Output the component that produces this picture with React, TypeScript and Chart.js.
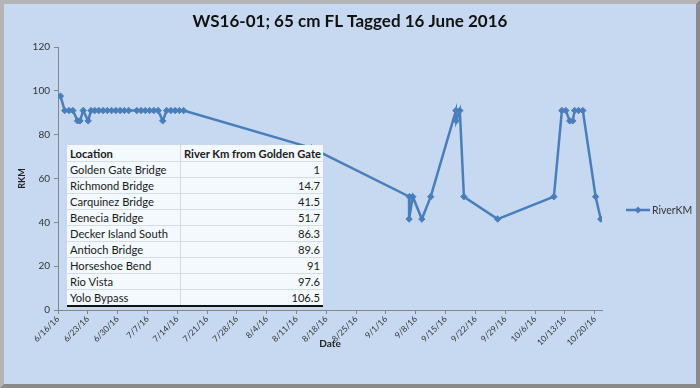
import React, { useEffect, useRef } from "react";
import { Chart, registerables } from "chart.js";
Chart.register(...registerables);

const TITLE = "WS16-01; 65 cm FL Tagged 16 June 2016";
const SERIES_NAME = "RiverKM";
const X_TITLE = "Date";
const Y_TITLE = "RKM";

// detection date/time (M/D/YY HH:MM) and river km
const detectionTimes = [
  "6/16/16 14:00", "6/17/16 14:00", "6/18/16 14:00", "6/19/16 12:00", "6/20/16 14:00",
  "6/21/16 04:00", "6/21/16 22:00", "6/23/16 02:00", "6/23/16 18:00", "6/24/16 16:00",
  "6/25/16 14:00", "6/26/16 14:00", "6/27/16 14:00", "6/28/16 14:00", "6/29/16 14:00",
  "6/30/16 14:00", "7/1/16 14:00", "7/2/16 14:00", "7/4/16 12:00", "7/5/16 12:00",
  "7/6/16 12:00", "7/7/16 12:00", "7/8/16 12:00", "7/9/16 12:00", "7/10/16 14:00",
  "7/11/16 12:00", "7/12/16 12:00", "7/13/16 12:00", "7/14/16 12:00", "7/15/16 12:00",
  "8/14/16 12:00",
  "9/6/16 12:00", "9/6/16 10:00", "9/7/16 07:00", "9/9/16 10:00", "9/11/16 12:00",
  "9/17/16 10:00", "9/17/16 12:00", "9/18/16 08:00", "9/19/16 07:00", "9/27/16 05:00",
  "10/10/16 10:00", "10/12/16 07:00", "10/13/16 05:00", "10/14/16 03:00", "10/14/16 20:00",
  "10/15/16 07:00", "10/16/16 05:00", "10/17/16 05:00", "10/20/16 05:00", "10/21/16 10:00",
];
const riverKm = [
  97.6, 91, 91, 91, 86.3,
  86.3, 91, 86.3, 91, 91,
  91, 91, 91, 91, 91,
  91, 91, 91, 91, 91,
  91, 91, 91, 91, 86.3,
  91, 91, 91, 91, 91,
  74,
  51.7, 41.5, 51.7, 41.5, 51.7,
  91, 86.3, 91, 51.7, 41.5,
  51.7, 91, 91, 86.3, 86.3,
  91, 91, 91, 51.7, 41.5,
];

const xTickLabels = [
  "6/16/16", "6/23/16", "6/30/16", "7/7/16", "7/14/16", "7/21/16", "7/28/16", "8/4/16",
  "8/11/16", "8/18/16", "8/25/16", "9/1/16", "9/8/16", "9/15/16", "9/22/16", "9/29/16",
  "10/6/16", "10/13/16", "10/20/16",
];
const X_MAX_DATE = "10/21/16 17:00";
const Y_MIN = 0;
const Y_MAX = 120;
const Y_STEP = 20;

const tableHeader = ["Location", "River Km from Golden Gate"];
const tableLocations = [
  "Golden Gate Bridge", "Richmond Bridge", "Carquinez Bridge", "Benecia Bridge",
  "Decker Island South", "Antioch Bridge", "Horseshoe Bend", "Rio Vista", "Yolo Bypass",
];
const tableKm = ["1", "14.7", "41.5", "51.7", "86.3", "89.6", "91", "97.6", "106.5"];

const ORIGIN = Date.UTC(2016, 5, 16);
function toDay(s: string): number {
  const [d, t] = s.split(" ");
  const [m, dd, yy] = d.split("/").map(Number);
  let h = 0, mi = 0;
  if (t) { const p = t.split(":").map(Number); h = p[0]; mi = p[1]; }
  return (Date.UTC(2000 + yy, m - 1, dd, h, mi) - ORIGIN) / 86400000;
}

const LINE = "#4a7ebb";
const FONT = "Lato, 'Noto Sans', sans-serif";

export default function App() {
  const ref = useRef<HTMLCanvasElement | null>(null);
  useEffect(() => {
    document.body.style.margin = "0";
    const tickDays = xTickLabels.map(toDay);
    const labelByDay = new Map<number, string>();
    tickDays.forEach((d, i) => labelByDay.set(d, xTickLabels[i]));
    const points = detectionTimes.map((t, i) => ({ x: toDay(t), y: riverKm[i] }));

    const decor = {
      id: "decor",
      afterDraw(chart: any) {
        const ctx = chart.ctx;
        ctx.save();
        ctx.fillStyle = "#111";
        ctx.font = `bold 17px ${FONT}`;
        ctx.textAlign = "center";
        ctx.textBaseline = "middle";
        ctx.fillText(TITLE, chart.width / 2, 18);
        // legend
        const ly = 206;
        const lx = 622;
        ctx.strokeStyle = LINE;
        ctx.lineWidth = 2.5;
        ctx.beginPath();
        ctx.moveTo(lx, ly);
        ctx.lineTo(lx + 24, ly);
        ctx.stroke();
        ctx.fillStyle = LINE;
        ctx.beginPath();
        const cx = lx + 12, r = 3.5;
        ctx.moveTo(cx, ly - r);
        ctx.lineTo(cx + r, ly);
        ctx.lineTo(cx, ly + r);
        ctx.lineTo(cx - r, ly);
        ctx.closePath();
        ctx.fill();
        ctx.fillStyle = "#333";
        ctx.font = `10.5px ${FONT}`;
        ctx.textAlign = "left";
        ctx.fillText(SERIES_NAME, lx + 26, ly + 1);
        ctx.restore();
      },
    };

    const chart = new Chart(ref.current as HTMLCanvasElement, {
      type: "line",
      data: {
        datasets: [
          {
            label: SERIES_NAME,
            data: points,
            borderColor: LINE,
            backgroundColor: LINE,
            borderWidth: 2.5,
            pointStyle: "rectRot",
            pointRadius: 3.2,
            pointBorderWidth: 1,
            pointBorderColor: LINE,
            pointBackgroundColor: LINE,
            tension: 0,
          },
        ],
      },
      options: {
        animation: false,
        responsive: false,
        maintainAspectRatio: false,
        layout: { padding: { top: 43, right: 94, left: 0, bottom: 0 } },
        plugins: { legend: { display: false }, title: { display: false }, tooltip: { enabled: false } },
        scales: {
          x: {
            type: "linear",
            min: 0,
            max: toDay(X_MAX_DATE),
            afterFit: (s: any) => { s.height = 74; },
            afterBuildTicks: (s: any) => { s.ticks = tickDays.map((v) => ({ value: v })); },
            ticks: {
              autoSkip: false,
              minRotation: 45,
              maxRotation: 45,
              padding: 0,
              color: "#333",
              font: { family: FONT, size: 8.5 },
              callback: (v: any) => labelByDay.get(v) ?? "",
            },
            grid: { display: true, drawOnChartArea: false, drawTicks: true, tickLength: 4, color: "#868686" },
            border: { display: true, color: "#868686", width: 1 },
            title: {
              display: true,
              text: X_TITLE,
              color: "#222",
              font: { family: FONT, size: 10, weight: "bold" },
              padding: { top: 0, bottom: 34 },
            },
          },
          y: {
            min: Y_MIN,
            max: Y_MAX,
            afterFit: (s: any) => { s.width = 54; },
            ticks: { stepSize: Y_STEP, padding: 4, color: "#333", font: { family: FONT, size: 10 } },
            grid: { display: true, drawOnChartArea: false, drawTicks: true, tickLength: 4, color: "#868686" },
            border: { display: true, color: "#868686", width: 1 },
            title: {
              display: true,
              text: Y_TITLE,
              color: "#222",
              font: { family: FONT, size: 9, weight: "bold" },
              padding: { top: 13, bottom: 0 },
            },
          },
        },
      },
      plugins: [decor],
    } as any);
    return () => chart.destroy();
  }, []);

  const cell: React.CSSProperties = {
    padding: "0 3px",
    height: 15,
    borderBottom: "1px solid #d3dce4",
    whiteSpace: "nowrap",
    lineHeight: "15px",
  };

  return (
    <div
      style={{
        position: "relative",
        width: 700,
        height: 388,
        boxSizing: "border-box",
        borderStyle: "solid",
        borderWidth: 4,
        borderColor: "#b4b4b4 #8a8a8a #8a8a8a #b4b4b4",
        background: "#c6d9f0",
        overflow: "hidden",
      }}
    >
      <canvas ref={ref} width={692} height={380} style={{ display: "block", width: 692, height: 380 }} />
      <table
        style={{
          position: "absolute",
          left: 63,
          top: 141,
          width: 256,
          tableLayout: "fixed",
          borderCollapse: "collapse",
          background: "#f3f9fd",
          fontFamily: FONT,
          fontSize: 11.2,
          color: "#1a1a1a",
          borderBottom: "2px solid #111",
        }}
      >
        <thead>
          <tr>
            <th style={{ ...cell, height: 16, textAlign: "left", fontWeight: "bold", width: 107, borderRight: "1px solid #d3dce4" }}>{tableHeader[0]}</th>
            <th style={{ ...cell, height: 16, textAlign: "right", fontWeight: "bold" }}>{tableHeader[1]}</th>
          </tr>
        </thead>
        <tbody>
          {tableLocations.map((loc, i) => (
            <tr key={loc}>
              <td style={{ ...cell, borderRight: "1px solid #d3dce4" }}>{loc}</td>
              <td style={{ ...cell, textAlign: "right" }}>{tableKm[i]}</td>
            </tr>
          ))}
        </tbody>
      </table>
    </div>
  );
}
